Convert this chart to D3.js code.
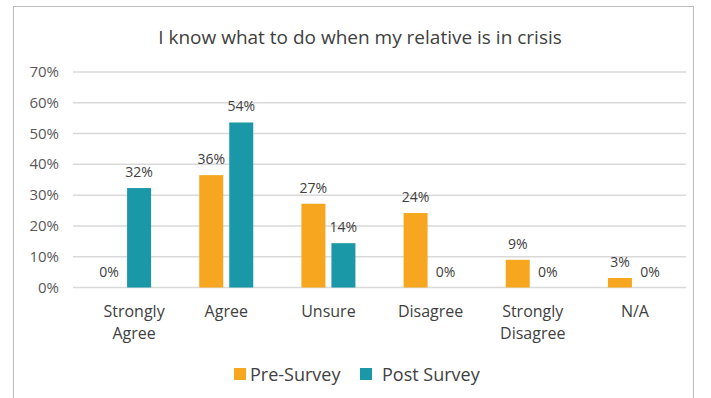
<!DOCTYPE html>
<html>
<head>
<meta charset="utf-8">
<script src="https://cdn.jsdelivr.net/npm/d3@7"></script>
<style>
  body { margin: 0; background: #fff; }
  text { font-family: "Open Sans", Lato, sans-serif; }
</style>
</head>
<body>
<div id="chart"></div>
<script>
var categories = ["Strongly Agree", "Agree", "Unsure", "Disagree", "Strongly Disagree", "N/A"];
var seriesNames = ["Pre-Survey", "Post Survey"];
var preValues = [0, 36.5, 27.2, 24.2, 9, 3.1];
var postValues = [32.3, 53.6, 14.4, 0, 0, 0];
var preLabels = ["0%", "36%", "27%", "24%", "9%", "3%"];
var postLabels = ["32%", "54%", "14%", "0%", "0%", "0%"];
var yTicks = [0, 10, 20, 30, 40, 50, 60, 70];
var colors = ["#F6A71F", "#1B98A8"];

var width = 711, height = 398;
var svg = d3.select("#chart").append("svg")
    .attr("width", width)
    .attr("height", height);

// chart frame
svg.append("rect")
    .attr("x", 13.5).attr("y", 6.5)
    .attr("width", 680).attr("height", 400)
    .attr("fill", "none")
    .attr("stroke", "#bcbcbc")
    .attr("stroke-width", 1);

svg.append("text")
    .attr("x", 360).attr("y", 44)
    .attr("text-anchor", "middle")
    .style("font-size", "19px")
    .style("fill", "#404040")
    .text("I know what to do when my relative is in crisis");

var x = d3.scaleBand().domain(categories).range([73, 686]);
var y = d3.scaleLinear().domain([0, 70]).range([287.5, 72]);

var grid = svg.append("g");
grid.selectAll("line")
    .data(yTicks)
    .enter()
    .append("line")
    .attr("x1", 73).attr("x2", 686)
    .attr("y1", function (d) { return y(d); })
    .attr("y2", function (d) { return y(d); })
    .attr("stroke", "#d9d9d9")
    .attr("stroke-width", 1.5);

svg.append("g").selectAll("text")
    .data(yTicks)
    .enter()
    .append("text")
    .attr("x", 59)
    .attr("y", function (d) { return y(d) + 5; })
    .attr("text-anchor", "end")
    .style("font-size", "15px")
    .style("fill", "#595959")
    .text(function (d) { return d + "%"; });

var barW = 24;
var series = [
    { name: seriesNames[0], values: preValues, labels: preLabels, color: colors[0], off: -27 },
    { name: seriesNames[1], values: postValues, labels: postLabels, color: colors[1], off: 3 }
];

series.forEach(function (s) {
    var g = svg.append("g");
    g.selectAll("rect")
        .data(categories)
        .enter()
        .append("rect")
        .attr("x", function (d) { return x(d) + x.bandwidth() / 2 + s.off; })
        .attr("y", function (d, i) { return y(s.values[i]); })
        .attr("width", barW)
        .attr("height", function (d, i) { return y(0) - y(s.values[i]); })
        .attr("fill", s.color);
    g.selectAll("text")
        .data(categories)
        .enter()
        .append("text")
        .attr("x", function (d) { return x(d) + x.bandwidth() / 2 + s.off + barW / 2; })
        .attr("y", function (d, i) { return y(s.values[i]) - 11; })
        .attr("text-anchor", "middle")
        .style("font-size", "14px")
        .style("fill", "#404040")
        .text(function (d, i) { return s.labels[i]; });
});

// category labels, wrapped after "Strongly"
svg.append("g").selectAll("text")
    .data(categories)
    .enter()
    .append("text")
    .attr("text-anchor", "middle")
    .style("font-size", "16px")
    .style("fill", "#404040")
    .each(function (d) {
        var t = d3.select(this);
        var parts = d.indexOf("Strongly") === 0 ? ["Strongly", d.slice(9)] : [d];
        var shift = d === "Strongly Agree" ? 10 : 0;
        parts.forEach(function (p, i) {
            t.append("tspan")
                .attr("x", x(d) + x.bandwidth() / 2 + shift)
                .attr("y", 317 + i * 22)
                .text(p);
        });
    });

// legend
var legend = svg.append("g");
var legX = [234, 360];
series.forEach(function (s, i) {
    legend.append("rect")
        .attr("x", legX[i]).attr("y", 368)
        .attr("width", 12).attr("height", 12)
        .attr("fill", s.color);
    legend.append("text")
        .attr("x", legX[i] + (i === 0 ? 16 : 22)).attr("y", 381)
        .style("font-size", "18px")
        .style("fill", "#404040")
        .text(s.name);
});
</script>
</body>
</html>
